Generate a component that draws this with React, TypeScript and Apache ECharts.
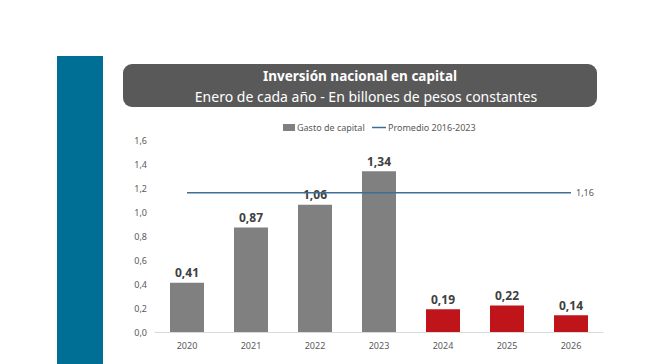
import React, { useEffect, useRef } from "react";
import * as echarts from "echarts";

const categories = ["2020", "2021", "2022", "2023", "2024", "2025", "2026"];
const gastoCapital = [0.41, 0.87, 1.06, 1.34, 0.19, 0.22, 0.14];
const esProyeccion = [false, false, false, false, true, true, true];
const promedio = [1.16, 1.16, 1.16, 1.16, 1.16, 1.16, 1.16];
const titleText = "Inversión nacional en capital";
const subtitleText = "Enero de cada año - En billones de pesos constantes";

const fmt = (v: number, d: number) => v.toFixed(d).replace(".", ",");

export default function App() {
  const ref = useRef<HTMLDivElement>(null);
  useEffect(() => {
    document.body.style.margin = "0";
    const chart = echarts.init(ref.current!, null, { renderer: "svg" });
    const font = "'Noto Sans', sans-serif";
    const legendText = { fontSize: 9, color: "#595959", fontFamily: font, padding: [0, 0, 0, -3] };
    chart.setOption({
      animation: false,
      backgroundColor: "#ffffff",
      textStyle: { fontFamily: font },
      graphic: [
        { type: "rect", shape: { x: 57, y: 56, width: 46, height: 308 }, style: { fill: "#006f95" } },
        { type: "rect", shape: { x: 123, y: 64, width: 474, height: 43, r: 9 }, style: { fill: "#595959" } },
        {
          type: "text", x: 360, y: 76,
          style: { text: titleText, fill: "#ffffff", font: "bold 13.5px 'Noto Sans', sans-serif", align: "center", verticalAlign: "middle" },
        },
        {
          type: "text", x: 366, y: 96,
          style: { text: subtitleText, fill: "#ffffff", font: "14px 'Noto Sans', sans-serif", align: "center", verticalAlign: "middle" },
        },
      ],
      legend: [
        {
          top: 118,
          left: 278,
          itemWidth: 12,
          itemHeight: 7,
          textStyle: legendText,
          data: [{ name: "Gasto de capital", icon: "rect", itemStyle: { color: "#808080" } }],
        },
        {
          top: 118,
          left: 367,
          itemWidth: 14,
          itemHeight: 1.5,
          textStyle: legendText,
          data: [{ name: "Promedio 2016-2023", icon: "rect", itemStyle: { color: "#3c6f98" } }],
        },
      ],
      grid: { left: 155, right: 66, top: 140, bottom: 32, containLabel: false },
      xAxis: {
        type: "category",
        data: categories,
        axisLine: { lineStyle: { color: "#d9d9d9" } },
        axisTick: { show: false },
        axisLabel: { color: "#595959", fontSize: 9, margin: 9 },
      },
      yAxis: {
        type: "value",
        min: 0,
        max: 1.6,
        interval: 0.2,
        splitLine: { show: false },
        axisLine: { show: false },
        axisTick: { show: false },
        axisLabel: { color: "#595959", fontSize: 9, margin: 8, formatter: (v: number) => fmt(v, 1) },
      },
      series: [
        {
          name: "Gasto de capital",
          type: "bar",
          barWidth: 34,
          itemStyle: { color: "#808080" },
          label: {
            show: true,
            position: "top",
            distance: 4,
            color: "#404040",
            fontWeight: "bold",
            fontSize: 12,
            formatter: (p: any) => fmt(p.value, 2),
          },
          data: gastoCapital.map((v, i) => ({
            value: v,
            itemStyle: { color: esProyeccion[i] ? "#c0141b" : "#808080" },
          })),
        },
        {
          name: "Promedio 2016-2023",
          type: "line",
          data: promedio,
          symbol: "none",
          lineStyle: { color: "#3c6f98", width: 1.5 },
          itemStyle: { color: "#3c6f98" },
          endLabel: {
            show: true,
            color: "#595959",
            fontSize: 9,
            distance: 5,
            formatter: (p: any) => fmt(p.value, 2),
          },
          z: 3,
        },
      ],
    });
    return () => chart.dispose();
  }, []);
  return <div ref={ref} style={{ width: 669, height: 364 }} />;
}
